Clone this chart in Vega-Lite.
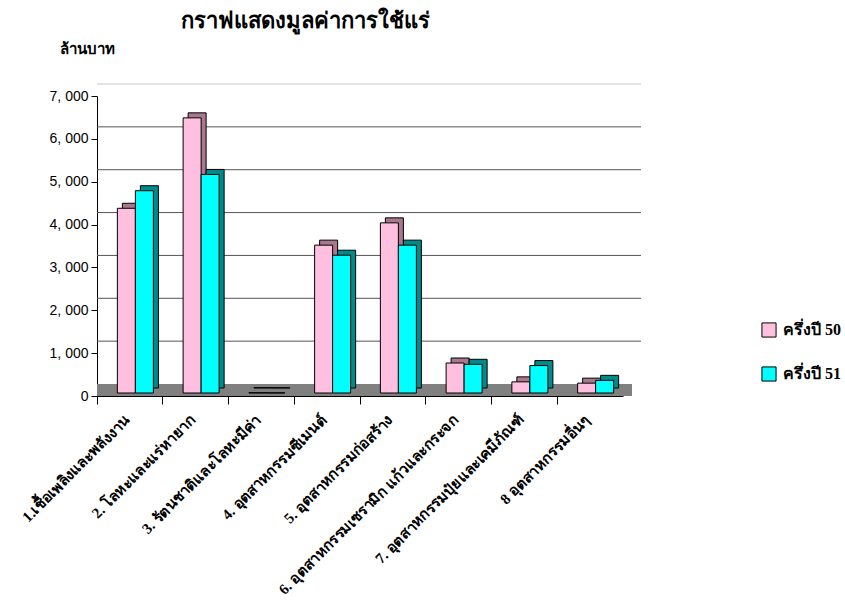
{
  "$schema": "https://vega.github.io/schema/vega-lite/v6.json",
  "width": 526,
  "height": 300,
  "autosize": "none",
  "padding": {"left": 97, "top": 96, "right": 222, "bottom": 216},
  "background": "white",
  "title": {
    "text": "กราฟแสดงมูลค่าการใช้แร่",
    "font": "Liberation Serif",
    "fontSize": 22,
    "fontWeight": "bold",
    "color": "black",
    "anchor": "middle",
    "dx": -55,
    "offset": 8
  },
  "datasets": {
    "bars": [
      {"cat": "1.เชื้อเพลิงและพลังงาน", "series": "ครึ่งปี 50", "value": 4310},
      {"cat": "1.เชื้อเพลิงและพลังงาน", "series": "ครึ่งปี 51", "value": 4720},
      {"cat": "2. โลหะและแร่หายาก", "series": "ครึ่งปี 50", "value": 6420},
      {"cat": "2. โลหะและแร่หายาก", "series": "ครึ่งปี 51", "value": 5100},
      {"cat": "3. รัตนชาติและโลหะมีค่า", "series": "ครึ่งปี 50", "value": 8},
      {"cat": "3. รัตนชาติและโลหะมีค่า", "series": "ครึ่งปี 51", "value": 5},
      {"cat": "4. อุตสาหกรรมซีเมนต์", "series": "ครึ่งปี 50", "value": 3450},
      {"cat": "4. อุตสาหกรรมซีเมนต์", "series": "ครึ่งปี 51", "value": 3215},
      {"cat": "5. อุตสาหกรรมก่อสร้าง", "series": "ครึ่งปี 50", "value": 3970},
      {"cat": "5. อุตสาหกรรมก่อสร้าง", "series": "ครึ่งปี 51", "value": 3450},
      {"cat": "6. อุตสาหกรรมเซรามิก แก้วและกระจก", "series": "ครึ่งปี 50", "value": 700},
      {"cat": "6. อุตสาหกรรมเซรามิก แก้วและกระจก", "series": "ครึ่งปี 51", "value": 670},
      {"cat": "7. อุตสาหกรรมปุ๋ยและเคมีภัณฑ์", "series": "ครึ่งปี 50", "value": 260},
      {"cat": "7. อุตสาหกรรมปุ๋ยและเคมีภัณฑ์", "series": "ครึ่งปี 51", "value": 640},
      {"cat": "8 อุตสาหกรรมอื่นๆ", "series": "ครึ่งปี 50", "value": 230},
      {"cat": "8 อุตสาหกรรมอื่นๆ", "series": "ครึ่งปี 51", "value": 295}
    ],
    "grid": [{"g": 1000}, {"g": 2000}, {"g": 3000}, {"g": 4000}, {"g": 5000}, {"g": 6000}, {"g": 7000}],
    "floor": [{"f": 0}]
  },
  "layer": [
    {
      "data": {"name": "grid"},
      "mark": {"type": "rule", "xOffset": 18, "yOffset": -12, "strokeWidth": 1},
      "encoding": {
        "y": {"field": "g", "type": "quantitative"},
        "stroke": {"value": "#555555", "condition": {"test": "datum.g == 7000", "value": "#c8c8c8"}}
      }
    },
    {
      "data": {"name": "floor"},
      "mark": {"type": "rule", "xOffset": 9, "yOffset": -6, "strokeWidth": 12, "stroke": "#808080"},
      "encoding": {"y": {"field": "f", "type": "quantitative"}}
    },
    {
      "data": {"name": "bars"},
      "transform": [{"filter": "datum.series == 'ครึ่งปี 50'"}],
      "mark": {"type": "bar", "xOffset": 1.5, "yOffset": -8, "width": {"band": 0.274}, "stroke": "black", "strokeWidth": 1, "fill": "#a8788f"},
      "encoding": {
        "x": {"field": "cat", "type": "nominal"},
        "y": {"field": "value", "type": "quantitative"}
      }
    },
    {
      "data": {"name": "bars"},
      "transform": [{"filter": "datum.series == 'ครึ่งปี 50'"}],
      "mark": {"type": "bar", "xOffset": -3.5, "yOffset": -3, "width": {"band": 0.274}, "stroke": "black", "strokeWidth": 1},
      "encoding": {
        "x": {"field": "cat", "type": "nominal"},
        "y": {"field": "value", "type": "quantitative"},
        "color": {"field": "series", "type": "nominal",
          "scale": {"domain": ["ครึ่งปี 50", "ครึ่งปี 51"], "range": ["#ffbfdf", "#00ffff"]}}
      }
    },
    {
      "data": {"name": "bars"},
      "transform": [{"filter": "datum.series == 'ครึ่งปี 51'"}],
      "mark": {"type": "bar", "xOffset": 19.5, "yOffset": -8, "width": {"band": 0.274}, "stroke": "black", "strokeWidth": 1, "fill": "#008b8b"},
      "encoding": {
        "x": {"field": "cat", "type": "nominal"},
        "y": {"field": "value", "type": "quantitative"}
      }
    },
    {
      "data": {"name": "bars"},
      "transform": [{"filter": "datum.series == 'ครึ่งปี 51'"}],
      "mark": {"type": "bar", "xOffset": 14.5, "yOffset": -3, "width": {"band": 0.274}, "stroke": "black", "strokeWidth": 1},
      "encoding": {
        "x": {
          "field": "cat", "type": "nominal", "sort": null, "title": null,
          "axis": {
            "bandPosition": 0, "labelAngle": -45, "labelAlign": "right", "labelBaseline": "top",
            "labelOffset": -8, "labelPadding": 8, "labelLimit": 400,
            "labelFont": "Liberation Serif", "labelFontSize": 15, "labelFontWeight": "bold", "labelColor": "black",
            "domainColor": "black", "tickColor": "black", "tickSize": 8, "grid": false
          }
        },
        "y": {
          "field": "value", "type": "quantitative",
          "scale": {"domain": [0, 7000], "nice": false},
          "axis": {
            "values": [0, 1000, 2000, 3000, 4000, 5000, 6000, 7000],
            "labelExpr": "replace(format(datum.value, ','), ',', ', ')",
            "labelFont": "Liberation Sans", "labelFontSize": 14, "labelColor": "black", "labelPadding": 3,
            "domainColor": "black", "tickColor": "black", "tickSize": 6, "grid": false,
            "title": "ล้านบาท", "titleAngle": 0, "titleX": -10, "titleY": -48,
            "titleAlign": "center", "titleBaseline": "middle",
            "titleFont": "Liberation Serif", "titleFontSize": 15, "titleFontWeight": "bold", "titleColor": "black"
          }
        },
        "color": {
          "field": "series", "type": "nominal",
          "legend": {
            "title": null, "orient": "none", "legendX": 664, "legendY": 226,
            "symbolType": "square", "symbolSize": 200, "symbolStrokeColor": "black", "symbolStrokeWidth": 1,
            "labelFont": "Liberation Serif", "labelFontSize": 16, "labelFontWeight": "bold", "labelColor": "black",
            "rowPadding": 24, "labelOffset": 6
          }
        }
      }
    }
  ],
  "config": {
    "view": {"stroke": null},
    "scale": {"bandPaddingInner": 0, "bandPaddingOuter": 0},
    "axisX": {"grid": false},
    "axisY": {"grid": false}
  }
}
